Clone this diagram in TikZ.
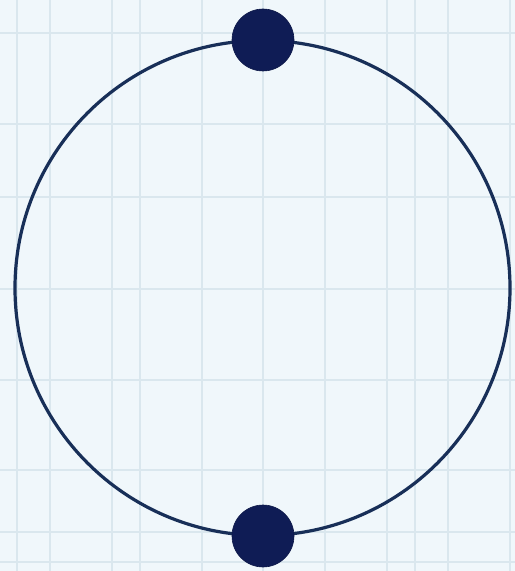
\documentclass[tikz,border=0pt]{standalone}
\definecolor{bg}{HTML}{F0F7FB}
\definecolor{gridc}{HTML}{DAE7EE}
\definecolor{ring}{HTML}{182F58}
\definecolor{dotc}{HTML}{0F1C55}
\begin{document}
\begin{tikzpicture}[x=1bp,y=-1bp,
  gridline/.style={gridc, line width=1.3bp},
  ringline/.style={ring, line width=3.2bp},
  dotnode/.style={circle, fill=dotc, draw=dotc!85!black, line width=0.6bp, minimum size=62bp, inner sep=0pt}]
\fill[bg] (0,0) rectangle (515,571);
\useasboundingbox (0,0) rectangle (515,571);
\foreach \x in {17,50,112,140,202,263,325,387,415,448,510}
  \draw[gridline] (\x,0) -- (\x,571);
\foreach \y in {33,124,197,289,380,470,532,562}
  \draw[gridline] (0,\y) -- (515,\y);
\draw[ringline] (262.5,288) circle[radius=247.5];
\node[dotnode] (top) at (263,40) {};
\node[dotnode] (bottom) at (263,536) {};
\end{tikzpicture}
\end{document}
